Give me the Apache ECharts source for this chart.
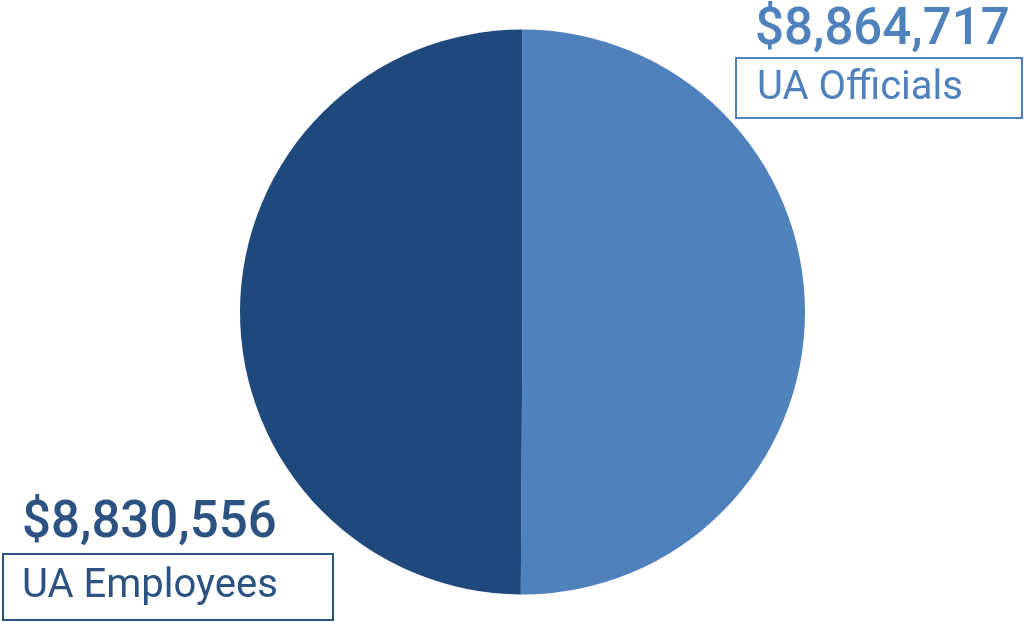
<!DOCTYPE html>
<html><head><meta charset="utf-8">
<script src="https://cdn.jsdelivr.net/npm/echarts@6/dist/echarts.min.js"></script>
<style>html,body{margin:0;padding:0;background:#fff}#c{width:1024px;height:622px}</style>
</head><body><div id="c"></div>
<script>
const categories = ['UA Officials', 'UA Employees'];
const values = [8864717, 8830556];
const colors = ['#4f81bd', '#1f497d'];
const textColors = ['#4f81bd', '#2c5282'];

const fmt = v => '$' + v.toLocaleString('en-US');
const chart = echarts.init(document.getElementById('c'));
const vFont = '500 51px Roboto';
const lFont = '40px Roboto';
chart.setOption({
  animation: false,
  series: [{
    type: 'pie',
    center: [522.5, 312],
    radius: 282.5,
    startAngle: 90,
    clockwise: true,
    label: {show: false},
    labelLine: {show: false},
    silent: true,
    data: categories.map((n, i) => ({name: n, value: values[i], itemStyle: {color: colors[i]}}))
  }],
  graphic: [
    {type: 'text', x: 755, y: 31, style: {text: fmt(values[0]), font: vFont, fill: textColors[0], verticalAlign: 'middle'}},
    {type: 'rect', shape: {x: 736, y: 58, width: 286, height: 60}, style: {fill: '#fff', stroke: colors[0], lineWidth: 2}},
    {type: 'text', x: 757, y: 89, style: {text: categories[0], font: lFont, fill: textColors[0], verticalAlign: 'middle'}},
    {type: 'text', x: 22, y: 524, style: {text: fmt(values[1]), font: vFont, fill: textColors[1], verticalAlign: 'middle'}},
    {type: 'rect', shape: {x: 3, y: 554, width: 330, height: 66}, style: {fill: '#fff', stroke: textColors[1], lineWidth: 2}},
    {type: 'text', x: 22, y: 587, style: {text: categories[1], font: lFont, fill: textColors[1], verticalAlign: 'middle'}}
  ]
});
</script></body></html>
